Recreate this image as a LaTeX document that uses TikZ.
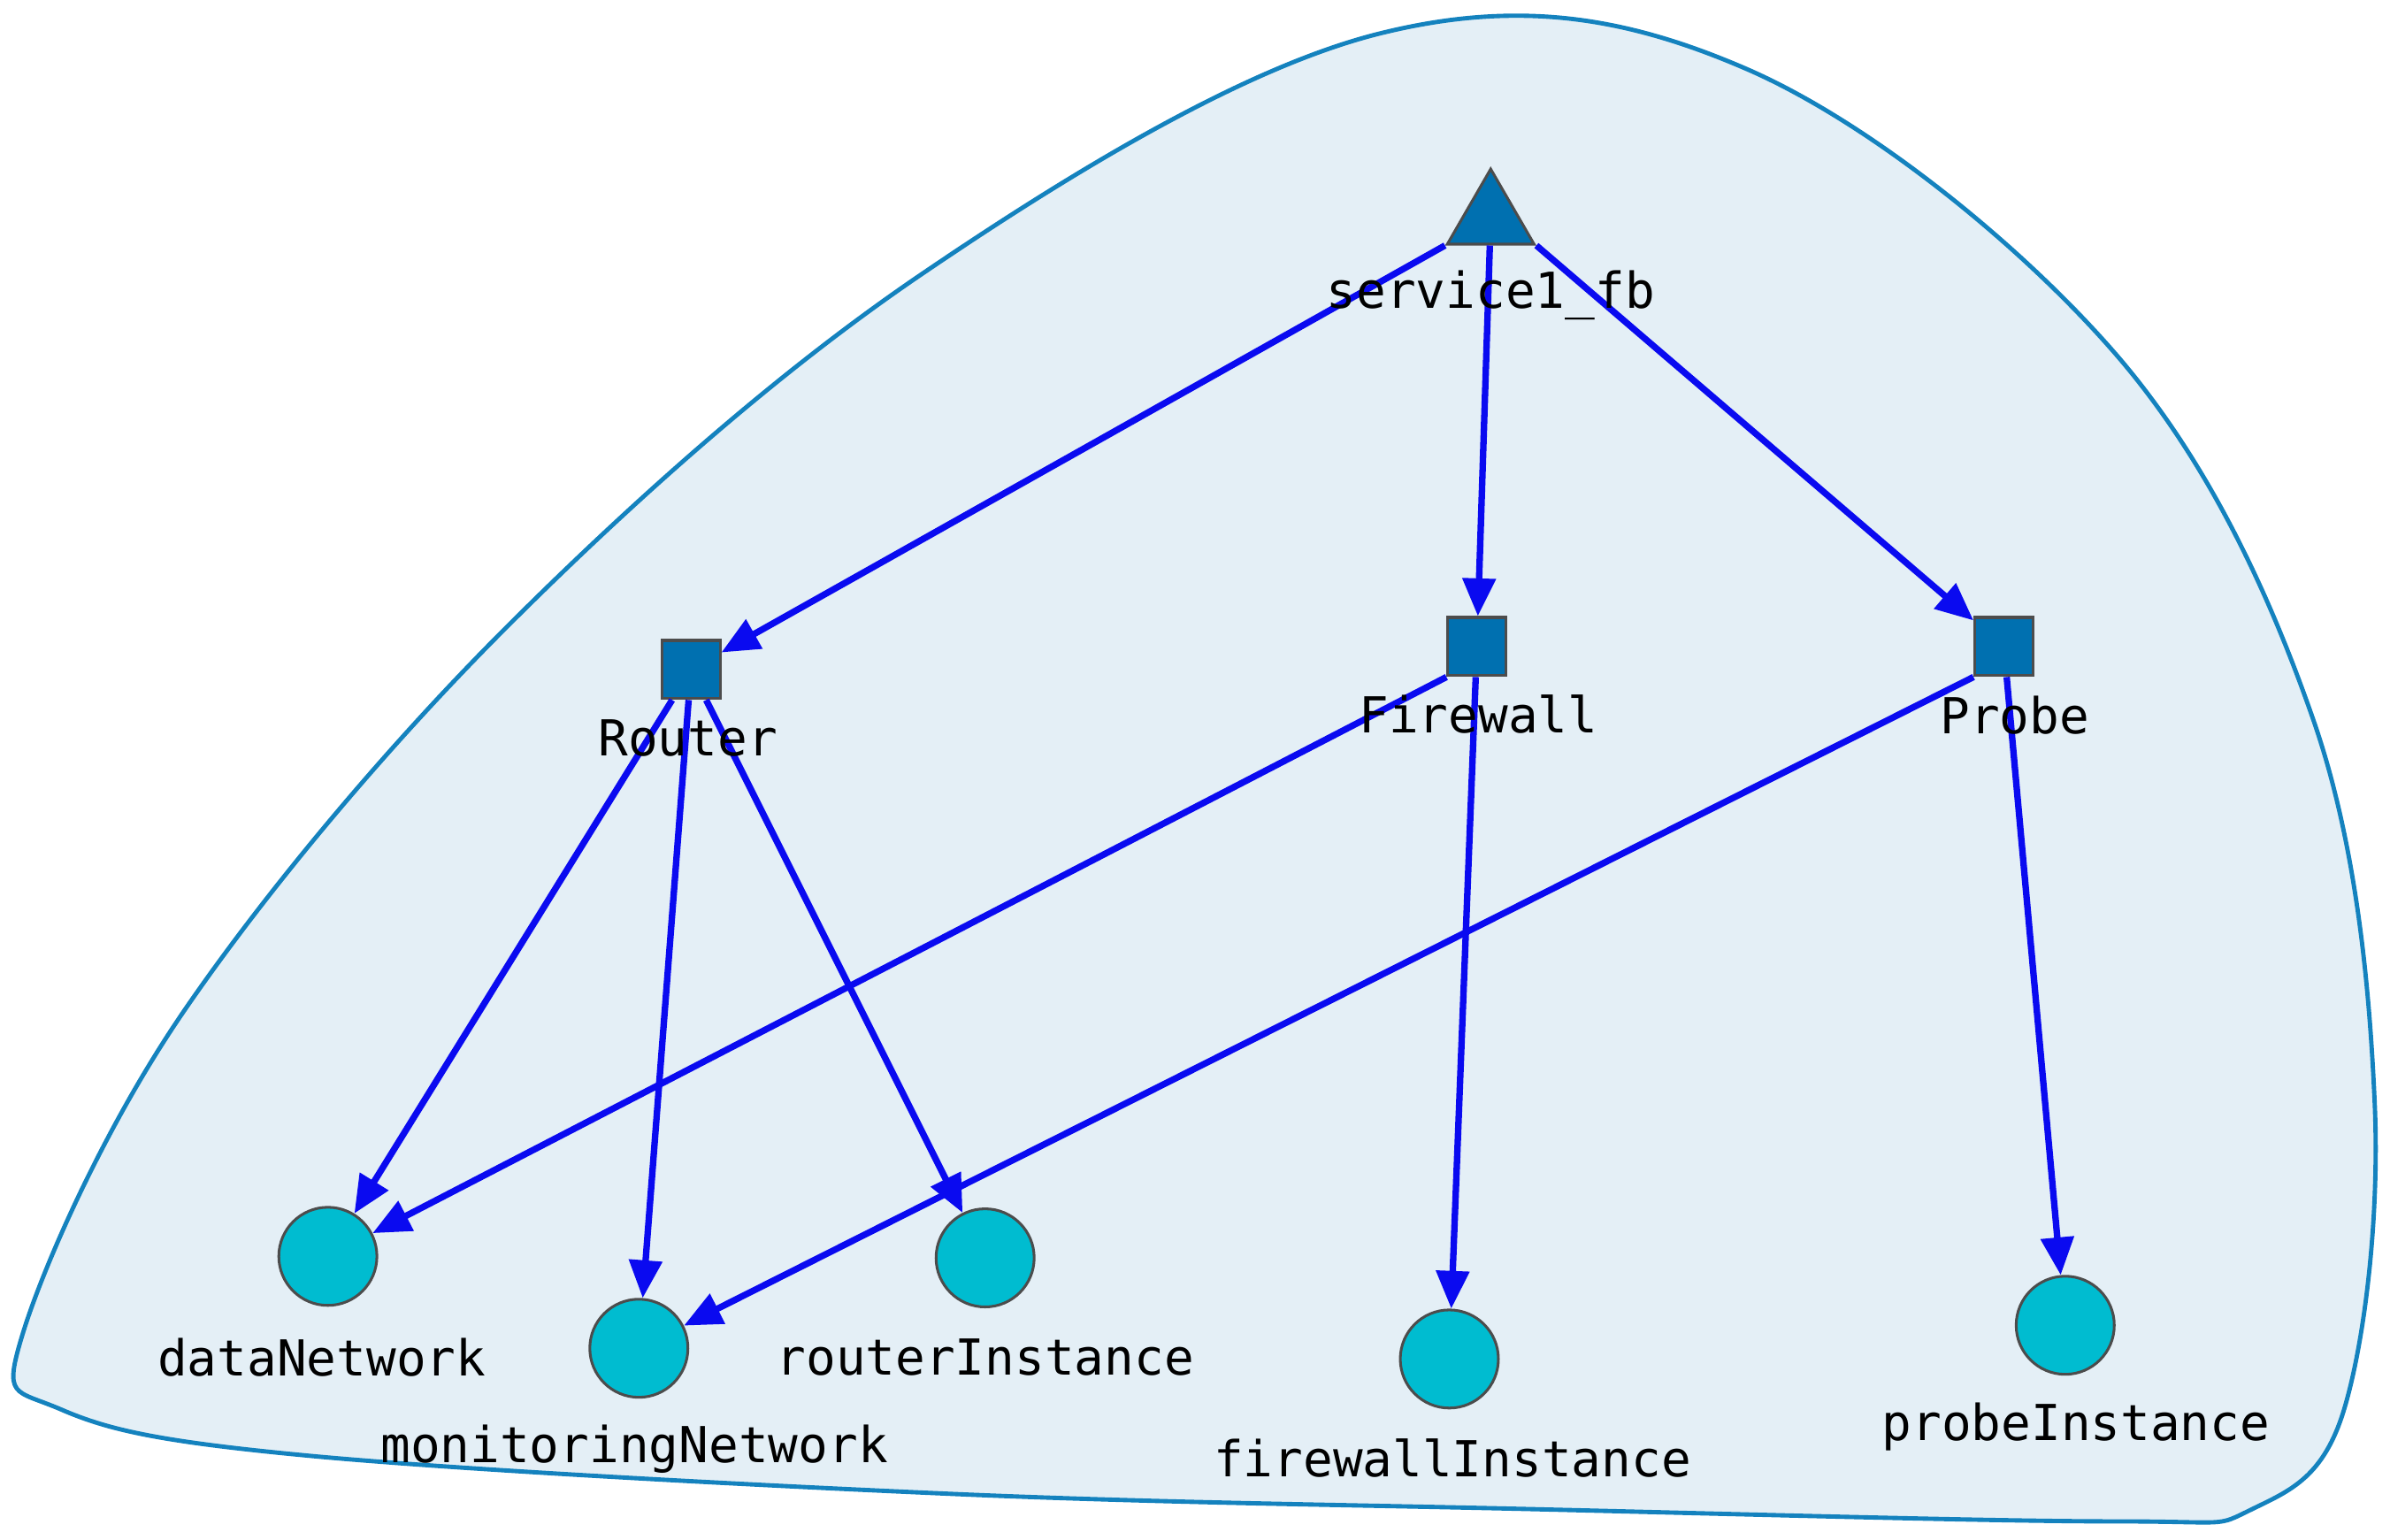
\documentclass[tikz,border=0pt]{standalone}
\usepackage{fontspec}
\setmonofont{DejaVu Sans Mono}
\usetikzlibrary{arrows.meta,shapes.geometric}
\begin{document}
\begin{tikzpicture}[x=0.01cm,y=-0.01cm,
  sq/.style={draw=black!70,fill={rgb,255:red,0;green,112;blue,176},minimum size=0.38cm,inner sep=0pt,line width=0.5pt},
  ci/.style={circle,draw=black!70,fill={rgb,255:red,0;green,188;blue,208},minimum size=0.64cm,inner sep=0pt,line width=0.5pt},
  tri/.style={isosceles triangle,shape border rotate=90,isosceles triangle apex angle=60,draw=black!70,fill={rgb,255:red,0;green,112;blue,176},minimum height=0.49cm,inner sep=0pt,line width=0.5pt},
  lab/.style={font=\ttfamily\fontsize{9.2}{10}\selectfont,inner sep=0pt},
  ed/.style={draw={rgb,255:red,10;green,10;blue,240},line width=1.2pt,-{Triangle[length=7pt,width=6pt]}}]
\useasboundingbox (0,0) rectangle (1560,1005);
\draw[draw={rgb,255:red,20;green,130;blue,190},fill={rgb,255:red,228;green,239;blue,246},line width=0.8pt]
 plot[smooth cycle,tension=0.6] coordinates {(15,870) (120,660) (330,410) (600,180) (900,22) (1140,45) (1380,230) (1510,470) (1550,720) (1530,920) (1470,985) (1380,993) (1000,985) (620,975) (200,950) (40,920)};
\node[tri] (s) at (973,143) {};
\node[sq] (r) at (451,437) {};
\node[sq] (f) at (964,422) {};
\node[sq] (p) at (1308,422) {};
\node[ci] (dn) at (214,820) {};
\node[ci] (mn) at (417,880) {};
\node[ci] (ri) at (643,821) {};
\node[ci] (fi) at (946,887) {};
\node[ci] (pi) at (1348,865) {};
\draw[ed] (s.left corner) -- (r);
\draw[ed] (s) -- (f);
\draw[ed] (s.right corner) -- (p);
\draw[ed] (r) -- (dn);
\draw[ed] (r) -- (mn);
\draw[ed] (r) -- (ri);
\draw[ed] (f.south west) -- (dn);
\draw[ed] (f) -- (fi);
\draw[ed] (p.south west) -- (mn);
\draw[ed] (p) -- (pi);
\node[lab] (ls) at (973,193) {service1\_fb};
\node[lab] (lr) at (449,482) {Router};
\node[lab] (lf) at (965,466) {Firewall};
\node[lab] (lp) at (1315,467) {Probe};
\node[lab] (ld) at (210,886) {dataNetwork};
\node[lab] (lm) at (414,946) {monitoringNetwork};
\node[lab] (lri) at (643,886) {routerInstance};
\node[lab] (lfi) at (948,952) {firewallInstance};
\node[lab] (lpi) at (1355,931) {probeInstance};
\end{tikzpicture}
\end{document}
